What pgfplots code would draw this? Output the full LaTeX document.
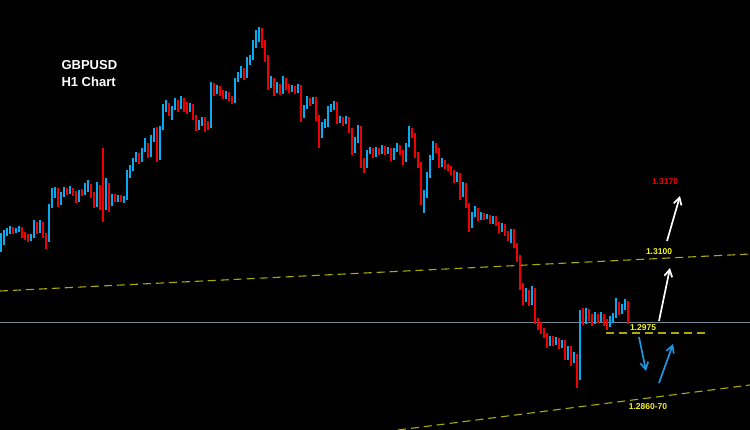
\documentclass[border=0pt]{standalone}
\usepackage{pgfplots}
\pgfplotsset{compat=1.18}
\usepackage{pgfplotstable}
\usepackage{fontspec}
\setmainfont{Liberation Sans}
\usetikzlibrary{arrows.meta}
\definecolor{cblue}{RGB}{10,170,240}
\definecolor{cred}{RGB}{240,0,0}
\definecolor{lyel}{RGB}{170,170,10}
\definecolor{lgray}{RGB}{120,135,150}
\definecolor{tyel}{RGB}{245,245,40}
\definecolor{ablue}{RGB}{30,150,225}
\pgfplotstableread{
x o h l c
1 248 233 252 240
4 240 230 245 233
7 233 228 236 231
10 231 226 234 229
13 229 227 234 231
16 231 228 233 230
19 230 226 232 229
22 229 227 238 234
25 234 232 240 237
28 237 234 242 239
31 239 234 241 236
34 236 220 238 224
37 224 222 234 231
40 231 220 233 223
43 223 222 238 235
46 235 233 249 238
49 238 204 242 206
52 206 188 208 195
55 195 187 198 190
58 190 188 207 203
61 203 192 205 195
64 195 187 197 190
67 190 188 195 192
70 192 186 194 189
73 189 188 196 193
76 193 191 203 200
79 200 190 202 192
82 192 189 196 193
85 193 183 195 188
88 188 180 192 186
91 186 184 198 195
94 195 192 208 204
97 204 182 207 188
100 188 185 210 200
103 198 148 222 208
106 208 178 210 185
109 185 183 212 204
112 204 194 206 196
115 196 194 202 200
118 200 195 202 197
121 197 195 202 199
124 199 196 203 198
127 198 170 200 175
130 175 165 178 168
133 168 158 171 160
136 160 152 162 155
139 155 153 164 160
142 160 148 162 150
145 150 138 152 145
148 145 143 158 155
151 155 135 157 140
154 140 128 142 130
157 130 127 162 158
160 158 126 160 128
163 128 104 130 110
166 110 100 112 105
169 105 103 116 112
172 112 106 120 108
175 108 98 110 103
178 103 100 112 107
181 107 96 109 100
184 100 98 112 104
187 104 102 114 110
190 110 103 112 106
193 106 104 120 118
196 118 115 131 127
199 127 120 130 124
202 124 117 126 119
205 119 117 132 126
208 126 121 130 127
211 127 82 128 84
214 84 83 96 92
217 92 85 94 88
220 88 86 96 93
223 93 90 99 97
226 97 91 99 94
229 94 92 101 98
232 98 96 104 101
235 101 78 103 80
238 80 72 82 75
241 75 66 78 70
244 70 68 80 76
247 76 57 78 62
250 62 55 65 58
253 58 40 60 46
256 46 30 48 36
259 36 27 42 30
262 30 28 48 45
265 45 40 62 60
268 60 55 90 85
271 85 76 88 80
274 80 78 96 90
277 90 82 93 86
280 86 84 95 92
283 92 76 94 80
286 80 78 90 87
289 87 84 93 90
292 90 85 92 88
295 88 86 94 91
298 91 84 93 87
301 87 85 122 115
304 115 105 118 107
307 107 96 109 100
310 100 98 106 102
313 102 97 104 99
316 99 97 121 118
319 118 115 148 135
322 135 122 138 125
325 125 119 128 122
328 122 106 127 110
331 110 104 112 107
334 107 101 110 104
337 104 102 124 121
340 121 116 123 119
343 119 117 126 122
346 122 116 124 119
349 119 117 133 130
352 130 128 155 150
355 150 137 153 140
358 140 125 143 128
361 128 126 168 160
364 160 158 173 165
367 165 150 168 152
370 152 147 154 150
373 150 148 158 155
376 155 147 157 150
379 150 148 155 152
382 152 145 154 148
385 148 146 155 152
388 152 147 154 150
391 150 148 161 158
394 158 148 160 150
397 150 143 152 147
400 147 145 155 152
403 152 150 165 160
406 160 143 162 145
409 145 126 147 130
412 130 128 138 135
415 135 133 158 155
418 155 152 168 165
421 165 162 205 200
424 200 190 213 195
427 195 172 198 175
430 175 155 178 158
433 158 141 160 145
436 145 143 153 150
439 150 148 168 165
442 165 158 167 162
445 162 160 169 166
448 166 164 171 168
451 168 166 175 172
454 172 170 183 180
457 180 172 182 175
460 175 173 200 195
463 195 182 197 185
466 185 183 208 205
469 205 203 232 225
472 225 212 228 215
475 215 206 217 210
478 210 208 221 218
481 218 212 220 215
484 215 213 220 218
487 218 214 219 217
490 217 215 224 222
493 222 216 224 218
496 218 216 226 224
499 224 222 233 230
502 230 223 232 226
505 226 224 236 233
508 233 231 241 237
511 237 229 243 231
514 231 229 248 245
517 245 243 262 258
520 258 255 290 285
523 285 283 305 300
526 300 288 302 292
529 292 290 306 303
532 303 286 305 292
535 292 288 324 320
538 320 318 330 327
541 327 322 334 330
544 330 328 338 335
547 335 333 348 344
550 344 336 346 338
553 338 336 346 343
556 343 337 345 340
559 340 338 349 346
562 346 340 348 342
565 342 340 360 358
568 358 346 360 348
571 348 346 366 360
574 360 352 363 356
577 356 354 388 378
580 378 310 380 315
583 315 308 325 322
586 322 308 324 312
589 312 309 321 318
592 318 314 326 322
595 322 312 324 318
598 318 314 323 320
601 320 312 322 317
604 317 314 326 322
607 322 319 330 325
610 325 316 327 321
613 321 313 323 316
616 316 298 318 305
619 305 302 315 312
622 312 304 314 308
625 308 299 310 303
628 303 301 324 322
}\candles
\begin{document}
\begin{tikzpicture}
\fill[black] (0,0) rectangle (750pt,430pt);
\begin{axis}[at={(0,0)}, anchor=south west, width=750pt, height=430pt, scale only axis,
  xmin=0, xmax=750, ymin=0, ymax=430, y dir=reverse, axis lines=none, clip=true]
% reference lines
\addplot[lgray, line width=0.9pt, forget plot] coordinates {(0,322) (750,322)};
\addplot[lyel, line width=1.1pt, dash pattern=on 8pt off 5pt, forget plot] coordinates {(0,291) (750,254)};
\addplot[lyel, line width=1.1pt, dash pattern=on 8pt off 5pt, forget plot] coordinates {(398,430) (750,385)};
\addplot[lyel, line width=1.1pt, dash pattern=on 8pt off 5pt, forget plot] coordinates {(606,333) (708,333)};
% wicks
\addplot[cred, mark=none, forget plot,
  quiver={u=0, v=\thisrow{l}-\thisrow{h}, every arrow/.append style={line width=1.1pt, cred}},
  x filter/.expression={\thisrow{c}<\thisrow{o} ? nan : x}] table[x=x, y=h] {\candles};
\addplot[cblue, mark=none, forget plot,
  quiver={u=0, v=\thisrow{l}-\thisrow{h}, every arrow/.append style={line width=1.1pt, cblue}},
  x filter/.expression={\thisrow{c}<\thisrow{o} ? x : nan}] table[x=x, y=h] {\candles};
% bodies
\addplot[cred, mark=none, forget plot,
  quiver={u=0, v=\thisrow{c}-\thisrow{o}, every arrow/.append style={line width=2.8pt, line cap=butt, cred}},
  x filter/.expression={\thisrow{c}<\thisrow{o} ? nan : x}] table[x=x, y=o] {\candles};
\addplot[cblue, mark=none, forget plot,
  quiver={u=0, v=\thisrow{c}-\thisrow{o}, every arrow/.append style={line width=2.8pt, line cap=butt, cblue}},
  x filter/.expression={\thisrow{c}<\thisrow{o} ? x : nan}] table[x=x, y=o] {\candles};
% titles
\node[anchor=west, text=white, font=\bfseries\fontsize{13}{15}\selectfont] at (axis cs:58,65) {GBPUSD};
\node[anchor=west, text=white, font=\bfseries\fontsize{13}{15}\selectfont] at (axis cs:58,82) {H1 Chart};
% level labels
\node[text=cred, font=\bfseries\fontsize{8.5}{10}\selectfont] at (axis cs:665,182) {1.3170};
\node[text=tyel, font=\bfseries\fontsize{8.5}{10}\selectfont] at (axis cs:659,252) {1.3100};
\node[text=tyel, font=\bfseries\fontsize{8.5}{10}\selectfont] at (axis cs:643,328) {1.2975};
\node[text=tyel, font=\bfseries\fontsize{8.5}{10}\selectfont] at (axis cs:648,407) {1.2860-70};
% arrows
\draw[white, line width=1.7pt, -{Straight Barb[length=7pt, width=8pt]}] (axis cs:667,241) -- (axis cs:680,196);
\draw[white, line width=1.7pt, -{Straight Barb[length=7pt, width=8pt]}] (axis cs:659,321) -- (axis cs:670,268);
\draw[ablue, line width=1.7pt, -{Straight Barb[length=7pt, width=8pt]}] (axis cs:639,337) -- (axis cs:646,371);
\draw[ablue, line width=1.7pt, -{Straight Barb[length=7pt, width=8pt]}] (axis cs:659,383) -- (axis cs:673,344);
\end{axis}
\end{tikzpicture}
\end{document}
